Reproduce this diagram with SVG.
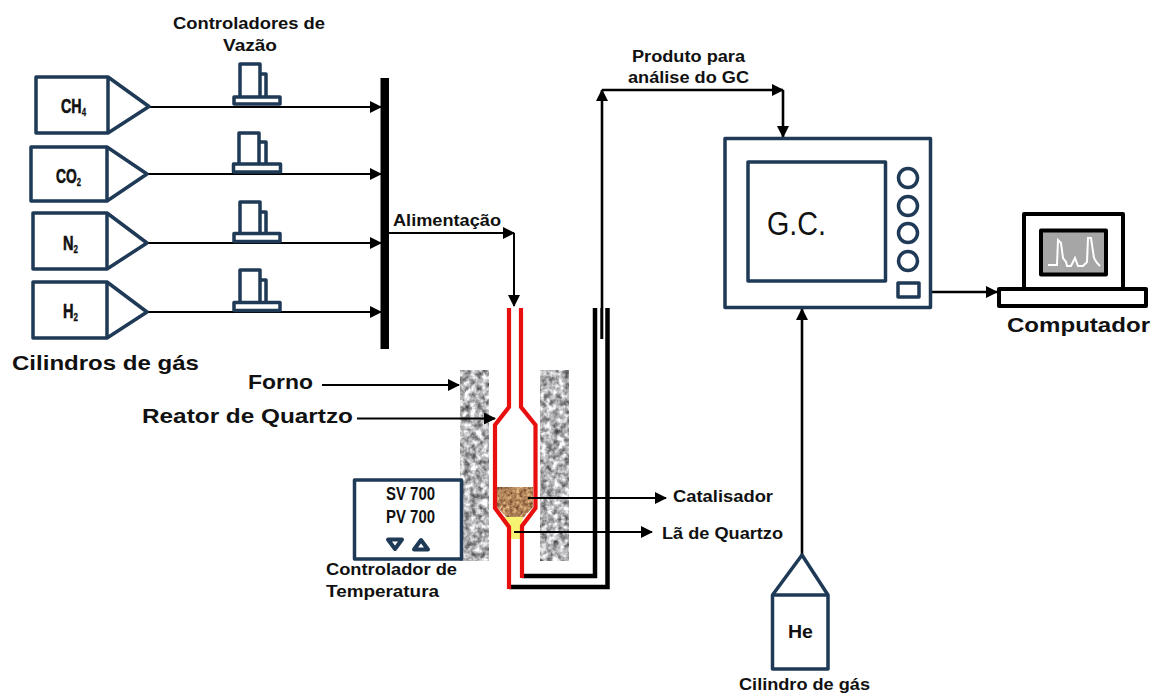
<svg xmlns="http://www.w3.org/2000/svg" width="1153" height="693" viewBox="0 0 1153 693">
<defs>
<marker id="arr" markerUnits="userSpaceOnUse" markerWidth="12" markerHeight="12" refX="11" refY="6" orient="auto"><path d="M0 0L12 6L0 12Z" fill="#000"/></marker>
<filter id="grain" x="0" y="0" width="100%" height="100%" color-interpolation-filters="sRGB"><feTurbulence type="fractalNoise" baseFrequency="0.17" numOctaves="3" seed="4"/><feColorMatrix values="1.25 0 0 0 0.08 1.25 0 0 0 0.08 1.25 0 0 0 0.09 0 0 0 0 1"/></filter>
<filter id="sand" x="0" y="0" width="100%" height="100%" color-interpolation-filters="sRGB"><feTurbulence type="fractalNoise" baseFrequency="0.3" numOctaves="2" seed="9"/><feColorMatrix values="0.8 0 0 0 0.29 0.75 0 0 0 0.14 0.6 0 0 0 0.05 0 0 0 0 1"/><feComposite in2="SourceAlpha" operator="in"/></filter>
</defs>
<style>
text{font-family:"Liberation Sans",Arial,sans-serif;font-weight:bold;fill:#111}
.d{fill:#fff;stroke:#1f3a56;stroke-width:3.5;stroke-linejoin:round}
.n{fill:none;stroke:#1f3a56;stroke-width:3.5;stroke-linejoin:round}
.c{fill:none;stroke:#000;stroke-width:2}
.t{stroke-width:2.6}
.a{marker-end:url(#arr)}
.r{fill:none;stroke:#e80f0f;stroke-width:4.2;stroke-linejoin:miter}
.k{fill:none;stroke:#000;stroke-width:4.5}
.s{font-size:16px}
.b{font-size:20.5px}
.g{font-size:20px;stroke:#111;stroke-width:.6}
.m{font-size:18px}
.sub{font-size:11px;stroke-width:.3}
.p{fill:#fff;stroke:#000;stroke-width:4;stroke-linejoin:round}
</style>
<rect width="1153" height="693" fill="#fff"/>
<g id="bus"><rect x="380.500" y="78" width="8.500" height="271" fill="#000"/></g>
<g id="furnace"><rect x="460" y="370" width="29" height="191" filter="url(#grain)"/><rect x="540" y="370" width="29" height="191" filter="url(#grain)"/></g>
<g id="reactor">
<path d="M497 487H533V507L522 519H508L497 507Z" filter="url(#sand)"/>
<path d="M505 517H523L520 539H510Z" fill="#f6f272"/>
<path class="k" d="M522 576H595V308M509 587H607.500V308"/>
<path class="r" d="M509 308V407L495 425V508L509 527V589"/>
<path class="r" d="M521 308V407L535.500 425V508L522 526V578"/>
</g>
<g id="connectors">
<path class="c a" d="M150 107H381"/>
<path class="c a" d="M148 174H381"/>
<path class="c a" d="M148 243H381"/>
<path class="c a" d="M148 312H381"/>
<path class="c a" d="M389 233H514"/>
<path class="c a" d="M514 233V306"/>
<path class="c a" d="M322 385H459"/>
<path class="c a" d="M357 418.500H495"/>
<path class="c a" d="M528 498H666"/>
<path class="c a" d="M514 532H652"/>
<path class="c t" d="M601.700 308V339"/>
<path class="c t a" d="M602 339V90"/>
<path class="c t a" d="M602 90H783"/>
<path class="c t a" d="M783 90V137"/>
<path class="c t a" d="M931 292H997"/>
<path class="c t a" d="M802 555V309"/>
</g>
<g id="cyl-ch4"><path class="d" d="M36 77H108L149 106.500L108 133H36Z"/><path class="n" d="M108 77V133"/><text class="g" x="61" y="113" textLength="25" lengthAdjust="spacingAndGlyphs">CH<tspan class="sub" dy="3">4</tspan></text></g>
<g id="cyl-co2"><path class="d" d="M31 147H107L147 174L107 201H31Z"/><path class="n" d="M107 147V201"/><text class="g" x="56" y="183" textLength="25" lengthAdjust="spacingAndGlyphs">CO<tspan class="sub" dy="3">2</tspan></text></g>
<g id="cyl-n2"><path class="d" d="M33 213H107L147 243L107 269H33Z"/><path class="n" d="M107 213V269"/><text class="g" x="63" y="250" textLength="15" lengthAdjust="spacingAndGlyphs">N<tspan class="sub" dy="3">2</tspan></text></g>
<g id="cyl-h2"><path class="d" d="M33 282H107L147 312L107 338H33Z"/><path class="n" d="M107 282V338"/><text class="g" x="63" y="318" textLength="15" lengthAdjust="spacingAndGlyphs">H<tspan class="sub" dy="3">2</tspan></text></g>
<g id="mfc1"><path class="n" d="M260 74H266V97M240 97V64H260V97"/><rect class="d" x="234" y="97" width="46" height="7"/></g>
<g id="mfc2"><path class="n" d="M259 142H266V164M239 164V133H259V164"/><rect class="d" x="233.500" y="164" width="47" height="8"/></g>
<g id="mfc3"><path class="n" d="M260 212H266V233M240 233V202H260V233"/><rect class="d" x="234" y="233.500" width="46" height="8"/></g>
<g id="mfc4"><path class="n" d="M260 280H266V302M240 302V270H260V302"/><rect class="d" x="234" y="302.500" width="46" height="8"/></g>
<text class="s" x="173" y="29" textLength="152" lengthAdjust="spacingAndGlyphs">Controladores de</text>
<text class="s" x="223" y="51" textLength="54" lengthAdjust="spacingAndGlyphs">Vazão</text>
<text class="b" x="12" y="370" textLength="187" lengthAdjust="spacingAndGlyphs">Cilindros de gás</text>
<text class="s" x="393" y="226" textLength="108" lengthAdjust="spacingAndGlyphs">Alimentação</text>
<text class="b" x="248" y="389" textLength="65" lengthAdjust="spacingAndGlyphs">Forno</text>
<text class="b" x="142" y="423" textLength="211" lengthAdjust="spacingAndGlyphs">Reator de Quartzo</text>
<g id="temp-ctrl"><rect class="d" x="354.500" y="480" width="107" height="79"/><text class="m" x="386" y="500" textLength="49" lengthAdjust="spacingAndGlyphs">SV 700</text><text class="m" x="386" y="523" textLength="49" lengthAdjust="spacingAndGlyphs">PV 700</text><path d="M388 539.500H402L395 549Z" fill="none" stroke="#1f3a56" stroke-width="4" stroke-linejoin="round"/><path d="M414 549.500H428L421 540Z" fill="none" stroke="#1f3a56" stroke-width="4" stroke-linejoin="round"/></g>
<text class="s" x="326" y="575" textLength="131" lengthAdjust="spacingAndGlyphs">Controlador de</text>
<text class="s" x="326" y="597" textLength="113" lengthAdjust="spacingAndGlyphs">Temperatura</text>
<text class="s" x="673" y="502" textLength="100" lengthAdjust="spacingAndGlyphs">Catalisador</text>
<text class="s" x="662" y="539" textLength="121" lengthAdjust="spacingAndGlyphs">Lã de Quartzo</text>
<text class="s" x="632" y="62" textLength="113" lengthAdjust="spacingAndGlyphs">Produto para</text>
<text class="s" x="628" y="83" textLength="121" lengthAdjust="spacingAndGlyphs">análise do GC</text>
<g id="gc"><rect class="d" x="725" y="138.500" width="205.500" height="169"/><rect class="d" x="748" y="162" width="137.500" height="119"/><text x="767" y="235" font-size="33" style="font-weight:normal" textLength="59" lengthAdjust="spacingAndGlyphs">G.C.</text><circle class="n" cx="908" cy="178" r="9.500"/><circle class="n" cx="908" cy="206" r="9.500"/><circle class="n" cx="908" cy="233" r="9.500"/><circle class="n" cx="908" cy="261" r="9.500"/><rect class="n" x="898" y="283" width="21" height="14"/></g>
<g id="computer"><rect class="p" x="1024" y="214" width="99" height="76"/><rect x="1041" y="230.500" width="65" height="44" fill="#a6a6a6" stroke="#000" stroke-width="4" stroke-linejoin="round"/><path d="M1048 265H1057L1058 240L1061 243L1063 258L1066 262L1067 266H1071L1075 258L1078 266H1083L1087 262L1088 238L1091 238L1094 258L1097 263L1100 266" fill="none" stroke="#fff" stroke-width="2"/><rect class="p" x="999" y="289" width="147" height="17"/></g>
<text class="b" x="1007" y="332" textLength="143" lengthAdjust="spacingAndGlyphs">Computador</text>
<g id="he"><path class="d" d="M772.500 595L802 555L828 595V669H772.500Z"/><path class="n" d="M772.500 595H828"/><text class="m" x="788" y="638" textLength="25" lengthAdjust="spacingAndGlyphs">He</text></g>
<text class="s" x="739" y="690" textLength="131" lengthAdjust="spacingAndGlyphs">Cilindro de gás</text>
</svg>
